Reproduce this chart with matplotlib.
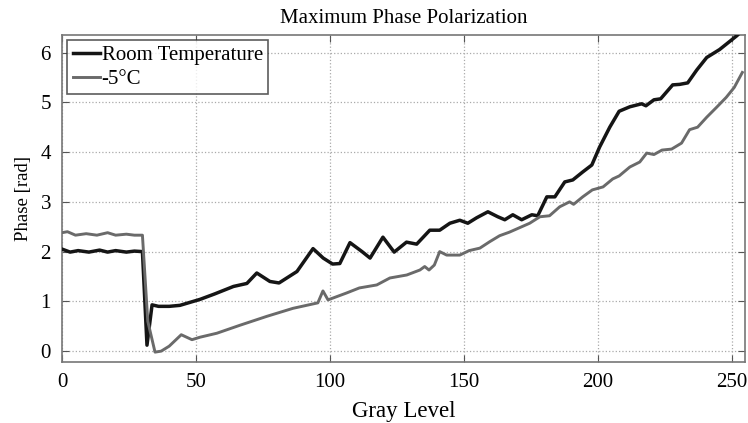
import matplotlib
matplotlib.use("Agg")
import matplotlib.pyplot as plt

# Room temperature curve (gray level, phase [rad])
room_x = [0, 3, 6, 10, 14, 17, 20, 24, 27, 30, 31.7, 33.6, 36, 40, 44, 51.5, 57, 64, 69, 72.7,
          77.6, 81, 87.7, 93.7, 97.5, 101, 103.7, 107.5, 112, 115, 119.8, 124, 128.6, 132.4,
          137.3, 141, 144.8, 148.5, 151.5, 154.8, 159, 162.7, 165.3, 168.3, 171.6, 175.4, 177.6,
          181, 184, 187.7, 190.7, 194.4, 197.8, 200.7, 204.5, 208, 212, 216.4, 218, 221, 223.5,
          228, 230.6, 233.6, 237, 240.7, 245.5, 252, 255]
room_y = [2.05, 1.99, 2.02, 1.99, 2.03, 1.99, 2.02, 1.99, 2.01, 2.0, 0.12, 0.93, 0.9, 0.9, 0.92, 1.04, 1.15, 1.3, 1.36, 1.57,
          1.4, 1.37, 1.6, 2.06, 1.87, 1.75, 1.76, 2.18, 2.0, 1.87, 2.29, 1.99, 2.19, 2.15,
          2.43, 2.43, 2.57, 2.63, 2.57, 2.68, 2.8, 2.7, 2.64, 2.74, 2.64, 2.74, 2.72,
          3.1, 3.1, 3.4, 3.44, 3.6, 3.74, 4.1, 4.5, 4.82, 4.91, 4.97, 4.93, 5.05, 5.07,
          5.35, 5.36, 5.39, 5.65, 5.9, 6.06, 6.34, 6.5]

# -5 degC curve
cold_x = [0, 2, 5, 9, 13, 17, 20, 24, 27, 30, 32, 34.7, 37, 40, 44.5, 48.5, 51.5, 57.8, 66.4,
          76.5, 86.2, 95.5, 97.4, 99.3, 106.3, 111, 117.5, 122.4, 128.7, 133.6, 135.4, 137,
          139, 141, 143.6, 148.5, 152, 156, 159.7, 163.4, 167, 174.6, 178.4, 182, 185.8, 189.5,
          191, 194.4, 198, 202, 205.6, 208, 212, 215.7, 218.3, 221, 224, 227.6, 231.3, 234.3,
          237.3, 240.7, 244.4, 248, 251, 254]
cold_y = [2.38, 2.4, 2.33, 2.36, 2.33, 2.38, 2.33, 2.35, 2.33, 2.33, 0.6, -0.02, 0.0, 0.1, 0.33, 0.23, 0.28, 0.36, 0.52,
          0.7, 0.86, 0.97, 1.21, 1.03, 1.17, 1.27, 1.33, 1.47, 1.53, 1.63, 1.7, 1.63,
          1.73, 2.0, 1.93, 1.93, 2.02, 2.07, 2.2, 2.32, 2.39, 2.57, 2.7, 2.72, 2.9, 3.0,
          2.95, 3.1, 3.24, 3.3, 3.46, 3.52, 3.7, 3.8, 3.98, 3.95, 4.04, 4.06, 4.18, 4.45,
          4.5, 4.7, 4.9, 5.1, 5.3, 5.6]

x_ticks = [0, 50, 100, 150, 200, 250]
y_ticks = [0, 1, 2, 3, 4, 5, 6]

plt.rcParams['font.family'] = ['Liberation Serif', 'DejaVu Serif']
fig = plt.figure(figsize=(7.48, 4.23), dpi=100)
ax = fig.add_axes([0.083, 0.144, 0.913, 0.773])

ax.plot(room_x, room_y, color='#151515', lw=2.5, label='Room Temperature', zorder=3)
ax.plot(cold_x, cold_y, color='#6a6a6a', lw=2.1, label='-5°C', zorder=3)

ax.set_xlim(0, 255)
ax.set_ylim(-0.22, 6.35)
ax.set_xticks(x_ticks)
ax.set_yticks(y_ticks)
ax.tick_params(direction='in', top=True, right=True, labelsize=15, length=5, color='#555555', pad=8)
ax.grid(True, linestyle=':', color='#aaaaaa', lw=0.9)
for s in ax.spines.values():
    s.set_color('#777777')
    s.set_linewidth(1.2)

ax.set_title('Maximum Phase Polarization', fontsize=15, pad=9)
ax.set_xlabel('Gray Level', fontsize=16.5, labelpad=6)
ax.set_ylabel('Phase [rad]', fontsize=13.5, labelpad=6)

leg = ax.legend(loc='upper left', fontsize=15, frameon=True, fancybox=False,
                borderaxespad=0.25, handlelength=1.3, handletextpad=0.1,
                borderpad=0.25, labelspacing=0.2)
leg.get_frame().set_edgecolor('#333333')
leg.get_frame().set_linewidth(1.2)

fig.savefig('out.png', dpi=100)
